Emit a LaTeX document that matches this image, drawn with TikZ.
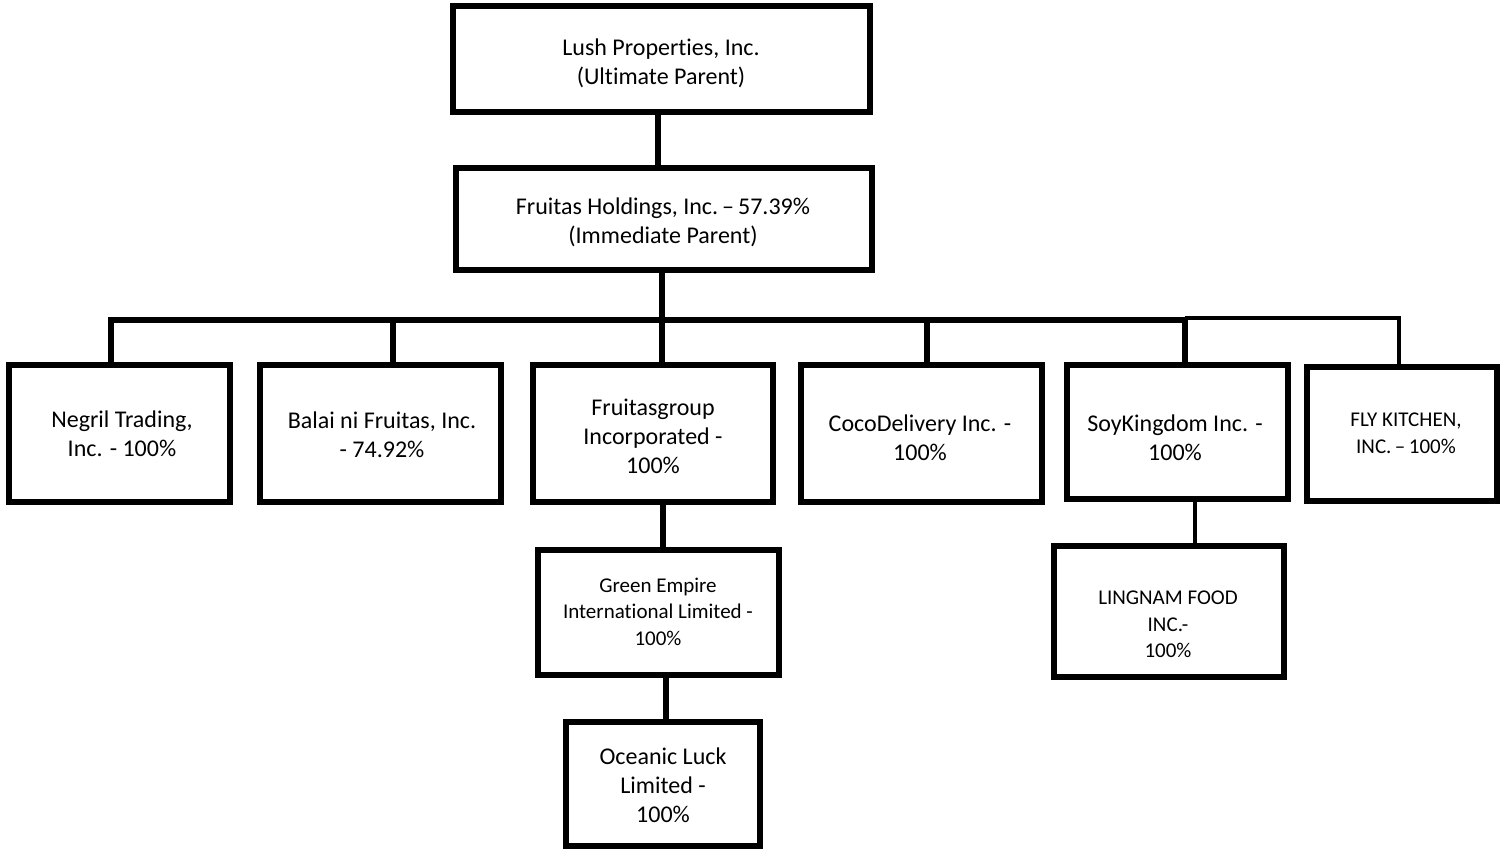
\documentclass[tikz,border=0pt]{standalone}
\usepackage{fontspec}
\setmainfont{Carlito}[Ligatures={NoCommon,NoContextual},Contextuals=NoAlternate]
\begin{document}
\begin{tikzpicture}[x=1pt,y=-1pt,
  orgbox/.style={draw=black,line width=6pt,minimum width=#1,inner sep=0pt,fill=none},
  big/.style={inner sep=0pt,align=center,font=\fontsize{24}{29}\selectfont},
  small/.style={inner sep=0pt,align=center,font=\fontsize{21}{26.5}\selectfont},
  conn/.style={line width=6pt},
  thinconn/.style={line width=4.5pt}]
\useasboundingbox[fill=white] (0,0) rectangle (1504,850);

% boxes
\node[orgbox=417pt,minimum height=106pt] (lush) at (661.5,59) {};
\node[orgbox=416pt,minimum height=102pt] (hold) at (664,219) {};
\node[orgbox=221pt,minimum height=137pt] (negril) at (119.5,433.5) {};
\node[orgbox=241pt,minimum height=137pt] (balai) at (380.5,433.5) {};
\node[orgbox=240pt,minimum height=137pt] (fgroup) at (653,433.5) {};
\node[orgbox=241pt,minimum height=137pt] (coco) at (921.5,433.5) {};
\node[orgbox=221pt,minimum height=134pt] (soy) at (1177.5,432) {};
\node[orgbox=190pt,minimum height=134pt] (fly) at (1402,434) {};
\node[orgbox=241pt,minimum height=125pt] (green) at (658.5,612.5) {};
\node[orgbox=194pt,minimum height=124pt] (oceanic) at (663,784) {};
\node[orgbox=230pt,minimum height=131pt] (lingnam) at (1169,611.5) {};

% texts
\node[big] (lushT) at (661,63) {Lush Propert\kern0pt ies, Inc.\\(Ultimate Parent)};
\node[big] (holdT) at (663,222.5) {Fruitas Holdings, Inc.\,–\,57.39\%\\(Immediate Parent)};
\node[big] (negrilT) at (122,434) {Negril Trading,\\Inc. - 100\%};
\node[big] (balaiT) at (382,434.5) {Balai ni Fruitas, Inc.\\- 74.92\%};
\node[big] (fgroupT) at (653,436) {Fruitasgroup\\Incorporated -\\100\%};
\node[big] (cocoT) at (920,438) {CocoDelivery Inc. -\\100\%};
\node[big] (soyT) at (1175,437.5) {SoyKingdom Inc. -\\100\%};
\node[small] (flyT) at (1406,433.5) {FLY KITCHEN,\\INC.\,–\,100\%};
\node[small] (greenT) at (658,611.5) {Green Empire\\Internat\kern0pt ional Limited -\\100\%};
\node[small] (lingnamT) at (1168,624.5) {LINGNAM FOOD\\INC.-\\100\%};
\node[big] (oceanicT) at (663,785) {Oceanic Luck\\Limited -\\100\%};

% connectors
\draw[conn] ([xshift=-3.5pt]lush.south) -- ([xshift=-3.5pt]lush.south |- hold.north);
\coordinate (barL) at (108,320);
\coordinate (barR) at (1188,320);
\coordinate (barJ) at (1185,318);
\coordinate (flyJ) at (1399,318);
\draw[conn] ([xshift=-2pt]hold.south) -- ([xshift=-2pt]hold.south |- barL);
\draw[conn] (barL) -- (barR);
\draw[conn] ([xshift=-8.5pt]negril.north) -- ([xshift=-8.5pt]negril.north |- barL);
\draw[conn] ([xshift=12.5pt]balai.north) -- ([xshift=12.5pt]balai.north |- barL);
\draw[conn] ([xshift=9pt]fgroup.north) -- ([xshift=9pt]fgroup.north |- barL);
\draw[conn] ([xshift=5.5pt]coco.north) -- ([xshift=5.5pt]coco.north |- barL);
\draw[conn] ([xshift=7.5pt]soy.north) -- ([xshift=7.5pt]soy.north |- barJ);
\draw[thinconn] (barJ) -- (flyJ) -- (flyJ |- fly.north);
\draw[conn] ([xshift=10pt]fgroup.south) -- ([xshift=10pt]fgroup.south |- green.north);
\draw[conn] ([xshift=7.5pt]green.south) -- ([xshift=7.5pt]green.south |- oceanic.north);
\draw[thinconn] ([xshift=17.5pt]soy.south) -- ([xshift=17.5pt]soy.south |- lingnam.north);
\end{tikzpicture}
\end{document}
